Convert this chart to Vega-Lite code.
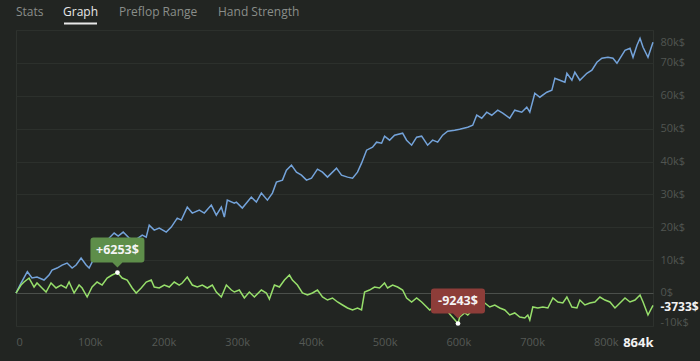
{
  "$schema": "https://vega.github.io/schema/vega-lite/v6.json",
  "background": "#222522",
  "padding": {"left": 12, "top": 0, "right": 2, "bottom": 12},
  "bounds": "flush",
  "spacing": 6,
  "config": {
    "font": "Open Sans",
    "view": {"stroke": "#2e322e"},
    "axis": {"labelFont": "Open Sans", "labelOverlap": false}
  },
  "datasets": {
    "tabs": [
      {"tab": "Stats", "order": 0, "active": false},
      {"tab": "Graph", "order": 1, "active": true},
      {"tab": "Preflop Range", "order": 2, "active": false},
      {"tab": "Hand Strength", "order": 3, "active": false}
    ],
    "series": [
      {"series": "Total", "hands_k": 0, "profit": 0},
      {"series": "Total", "hands_k": 6.8, "profit": 3070},
      {"series": "Total", "hands_k": 15.4, "profit": 6500},
      {"series": "Total", "hands_k": 21.7, "profit": 4590},
      {"series": "Total", "hands_k": 28.5, "profit": 4890},
      {"series": "Total", "hands_k": 38.0, "profit": 3980},
      {"series": "Total", "hands_k": 44.8, "profit": 5500},
      {"series": "Total", "hands_k": 48.9, "profit": 7020},
      {"series": "Total", "hands_k": 55.7, "profit": 7620},
      {"series": "Total", "hands_k": 62.5, "profit": 8530},
      {"series": "Total", "hands_k": 69.3, "profit": 9140},
      {"series": "Total", "hands_k": 76.1, "profit": 7620},
      {"series": "Total", "hands_k": 81.5, "profit": 8530},
      {"series": "Total", "hands_k": 88.3, "profit": 10660},
      {"series": "Total", "hands_k": 95.1, "profit": 8530},
      {"series": "Total", "hands_k": 99.2, "profit": 7620},
      {"series": "Total", "hands_k": 107.3, "profit": 11270},
      {"series": "Total", "hands_k": 114.1, "profit": 13090},
      {"series": "Total", "hands_k": 120.9, "profit": 14300},
      {"series": "Total", "hands_k": 126.3, "profit": 16730},
      {"series": "Total", "hands_k": 133.1, "profit": 18250},
      {"series": "Total", "hands_k": 138.6, "profit": 17340},
      {"series": "Total", "hands_k": 145.4, "profit": 18560},
      {"series": "Total", "hands_k": 153.5, "profit": 16730},
      {"series": "Total", "hands_k": 161.7, "profit": 16130},
      {"series": "Total", "hands_k": 171.2, "profit": 17650},
      {"series": "Total", "hands_k": 176.6, "profit": 17040},
      {"series": "Total", "hands_k": 180.7, "profit": 20680},
      {"series": "Total", "hands_k": 187.5, "profit": 19160},
      {"series": "Total", "hands_k": 194.3, "profit": 19770},
      {"series": "Total", "hands_k": 203.8, "profit": 18560},
      {"series": "Total", "hands_k": 210.6, "profit": 20080},
      {"series": "Total", "hands_k": 218.7, "profit": 22810},
      {"series": "Total", "hands_k": 224.2, "profit": 22200},
      {"series": "Total", "hands_k": 232.3, "profit": 26150},
      {"series": "Total", "hands_k": 239.1, "profit": 24330},
      {"series": "Total", "hands_k": 248.6, "profit": 25240},
      {"series": "Total", "hands_k": 255.4, "profit": 24330},
      {"series": "Total", "hands_k": 264.9, "profit": 26760},
      {"series": "Total", "hands_k": 271.7, "profit": 23720},
      {"series": "Total", "hands_k": 278.5, "profit": 26150},
      {"series": "Total", "hands_k": 282.6, "profit": 23110},
      {"series": "Total", "hands_k": 286.6, "profit": 28270},
      {"series": "Total", "hands_k": 296.1, "profit": 27360},
      {"series": "Total", "hands_k": 298.9, "profit": 27670},
      {"series": "Total", "hands_k": 307.0, "profit": 25850},
      {"series": "Total", "hands_k": 319.2, "profit": 29190},
      {"series": "Total", "hands_k": 326.0, "profit": 27670},
      {"series": "Total", "hands_k": 332.8, "profit": 30400},
      {"series": "Total", "hands_k": 341.0, "profit": 28270},
      {"series": "Total", "hands_k": 347.8, "profit": 30400},
      {"series": "Total", "hands_k": 353.2, "profit": 33740},
      {"series": "Total", "hands_k": 361.4, "profit": 34350},
      {"series": "Total", "hands_k": 366.8, "profit": 37390},
      {"series": "Total", "hands_k": 373.6, "profit": 38900},
      {"series": "Total", "hands_k": 380.4, "profit": 36780},
      {"series": "Total", "hands_k": 387.2, "profit": 35870},
      {"series": "Total", "hands_k": 394.0, "profit": 34350},
      {"series": "Total", "hands_k": 400.8, "profit": 34960},
      {"series": "Total", "hands_k": 408.9, "profit": 37690},
      {"series": "Total", "hands_k": 415.7, "profit": 36780},
      {"series": "Total", "hands_k": 422.5, "profit": 35260},
      {"series": "Total", "hands_k": 434.7, "profit": 37990},
      {"series": "Total", "hands_k": 441.5, "profit": 35870},
      {"series": "Total", "hands_k": 449.7, "profit": 35260},
      {"series": "Total", "hands_k": 456.5, "profit": 34960},
      {"series": "Total", "hands_k": 463.2, "profit": 36780},
      {"series": "Total", "hands_k": 468.7, "profit": 39510},
      {"series": "Total", "hands_k": 475.5, "profit": 43460},
      {"series": "Total", "hands_k": 483.6, "profit": 44370},
      {"series": "Total", "hands_k": 489.1, "profit": 45890},
      {"series": "Total", "hands_k": 495.9, "profit": 45590},
      {"series": "Total", "hands_k": 499.9, "profit": 47710},
      {"series": "Total", "hands_k": 506.7, "profit": 46500},
      {"series": "Total", "hands_k": 513.5, "profit": 48020},
      {"series": "Total", "hands_k": 524.4, "profit": 48620},
      {"series": "Total", "hands_k": 529.8, "profit": 46500},
      {"series": "Total", "hands_k": 536.6, "profit": 44980},
      {"series": "Total", "hands_k": 543.4, "profit": 47410},
      {"series": "Total", "hands_k": 550.2, "profit": 47710},
      {"series": "Total", "hands_k": 558.3, "profit": 44980},
      {"series": "Total", "hands_k": 565.1, "profit": 46500},
      {"series": "Total", "hands_k": 571.9, "profit": 45890},
      {"series": "Total", "hands_k": 578.7, "profit": 48020},
      {"series": "Total", "hands_k": 585.5, "profit": 49230},
      {"series": "Total", "hands_k": 595.0, "profit": 49530},
      {"series": "Total", "hands_k": 601.8, "profit": 49840},
      {"series": "Total", "hands_k": 612.7, "profit": 50450},
      {"series": "Total", "hands_k": 619.5, "profit": 51050},
      {"series": "Total", "hands_k": 624.9, "profit": 54090},
      {"series": "Total", "hands_k": 631.7, "profit": 53180},
      {"series": "Total", "hands_k": 638.5, "profit": 55000},
      {"series": "Total", "hands_k": 645.3, "profit": 54090},
      {"series": "Total", "hands_k": 653.4, "profit": 55610},
      {"series": "Total", "hands_k": 660.2, "profit": 54700},
      {"series": "Total", "hands_k": 669.7, "profit": 53180},
      {"series": "Total", "hands_k": 676.5, "profit": 55610},
      {"series": "Total", "hands_k": 686.0, "profit": 55000},
      {"series": "Total", "hands_k": 692.8, "profit": 56520},
      {"series": "Total", "hands_k": 696.9, "profit": 55000},
      {"series": "Total", "hands_k": 703.7, "profit": 60770},
      {"series": "Total", "hands_k": 710.5, "profit": 59560},
      {"series": "Total", "hands_k": 720.0, "profit": 61070},
      {"series": "Total", "hands_k": 726.8, "profit": 61680},
      {"series": "Total", "hands_k": 730.9, "profit": 65330},
      {"series": "Total", "hands_k": 737.7, "profit": 64720},
      {"series": "Total", "hands_k": 744.5, "profit": 64110},
      {"series": "Total", "hands_k": 747.2, "profit": 66840},
      {"series": "Total", "hands_k": 754.0, "profit": 64720},
      {"series": "Total", "hands_k": 758.0, "profit": 67150},
      {"series": "Total", "hands_k": 764.8, "profit": 64720},
      {"series": "Total", "hands_k": 774.3, "profit": 66840},
      {"series": "Total", "hands_k": 781.1, "profit": 67760},
      {"series": "Total", "hands_k": 787.9, "profit": 70190},
      {"series": "Total", "hands_k": 794.7, "profit": 71400},
      {"series": "Total", "hands_k": 802.9, "profit": 71700},
      {"series": "Total", "hands_k": 809.7, "profit": 71400},
      {"series": "Total", "hands_k": 815.1, "profit": 69880},
      {"series": "Total", "hands_k": 819.2, "profit": 71400},
      {"series": "Total", "hands_k": 826.0, "profit": 73830},
      {"series": "Total", "hands_k": 832.8, "profit": 74440},
      {"series": "Total", "hands_k": 836.9, "profit": 71700},
      {"series": "Total", "hands_k": 842.3, "profit": 75350},
      {"series": "Total", "hands_k": 846.4, "profit": 77470},
      {"series": "Total", "hands_k": 850.5, "profit": 74740},
      {"series": "Total", "hands_k": 857.2, "profit": 71700},
      {"series": "Total", "hands_k": 864.0, "profit": 76260},
      {"series": "Non-showdown", "hands_k": 0, "profit": 0},
      {"series": "Non-showdown", "hands_k": 6.8, "profit": 2460},
      {"series": "Non-showdown", "hands_k": 10.9, "profit": 3370},
      {"series": "Non-showdown", "hands_k": 17.7, "profit": 4590},
      {"series": "Non-showdown", "hands_k": 24.5, "profit": 1850},
      {"series": "Non-showdown", "hands_k": 28.5, "profit": 3070},
      {"series": "Non-showdown", "hands_k": 35.3, "profit": 1550},
      {"series": "Non-showdown", "hands_k": 40.8, "profit": 330},
      {"series": "Non-showdown", "hands_k": 47.5, "profit": 3070},
      {"series": "Non-showdown", "hands_k": 54.3, "profit": 1550},
      {"series": "Non-showdown", "hands_k": 61.1, "profit": 2460},
      {"series": "Non-showdown", "hands_k": 67.9, "profit": 1550},
      {"series": "Non-showdown", "hands_k": 72.0, "profit": 3370},
      {"series": "Non-showdown", "hands_k": 78.8, "profit": 30},
      {"series": "Non-showdown", "hands_k": 85.6, "profit": 2460},
      {"series": "Non-showdown", "hands_k": 89.7, "profit": 1550},
      {"series": "Non-showdown", "hands_k": 96.5, "profit": -1180},
      {"series": "Non-showdown", "hands_k": 103.2, "profit": 1850},
      {"series": "Non-showdown", "hands_k": 110.0, "profit": 3370},
      {"series": "Non-showdown", "hands_k": 116.8, "profit": 2460},
      {"series": "Non-showdown", "hands_k": 123.6, "profit": 4590},
      {"series": "Non-showdown", "hands_k": 130.4, "profit": 5500},
      {"series": "Non-showdown", "hands_k": 137.6, "profit": 6253},
      {"series": "Non-showdown", "hands_k": 144.0, "profit": 4590},
      {"series": "Non-showdown", "hands_k": 150.8, "profit": 3980},
      {"series": "Non-showdown", "hands_k": 157.6, "profit": 1550},
      {"series": "Non-showdown", "hands_k": 163.0, "profit": 30},
      {"series": "Non-showdown", "hands_k": 169.8, "profit": 1550},
      {"series": "Non-showdown", "hands_k": 176.6, "profit": 3370},
      {"series": "Non-showdown", "hands_k": 183.4, "profit": 3980},
      {"series": "Non-showdown", "hands_k": 187.5, "profit": 1850},
      {"series": "Non-showdown", "hands_k": 194.3, "profit": 1550},
      {"series": "Non-showdown", "hands_k": 201.1, "profit": 2460},
      {"series": "Non-showdown", "hands_k": 207.9, "profit": 1850},
      {"series": "Non-showdown", "hands_k": 214.6, "profit": 3370},
      {"series": "Non-showdown", "hands_k": 221.4, "profit": 2460},
      {"series": "Non-showdown", "hands_k": 225.5, "profit": 3070},
      {"series": "Non-showdown", "hands_k": 232.3, "profit": 4890},
      {"series": "Non-showdown", "hands_k": 239.1, "profit": 2460},
      {"series": "Non-showdown", "hands_k": 245.9, "profit": 1850},
      {"series": "Non-showdown", "hands_k": 252.7, "profit": 2460},
      {"series": "Non-showdown", "hands_k": 259.5, "profit": 1550},
      {"series": "Non-showdown", "hands_k": 266.3, "profit": 2460},
      {"series": "Non-showdown", "hands_k": 271.7, "profit": 330},
      {"series": "Non-showdown", "hands_k": 278.5, "profit": -1180},
      {"series": "Non-showdown", "hands_k": 285.3, "profit": 2460},
      {"series": "Non-showdown", "hands_k": 292.1, "profit": 940},
      {"series": "Non-showdown", "hands_k": 296.2, "profit": 330},
      {"series": "Non-showdown", "hands_k": 302.9, "profit": 940},
      {"series": "Non-showdown", "hands_k": 309.7, "profit": -1490},
      {"series": "Non-showdown", "hands_k": 316.5, "profit": 330},
      {"series": "Non-showdown", "hands_k": 323.3, "profit": -1180},
      {"series": "Non-showdown", "hands_k": 332.8, "profit": 940},
      {"series": "Non-showdown", "hands_k": 339.6, "profit": 30},
      {"series": "Non-showdown", "hands_k": 343.7, "profit": -1790},
      {"series": "Non-showdown", "hands_k": 350.5, "profit": 2460},
      {"series": "Non-showdown", "hands_k": 357.3, "profit": 1850},
      {"series": "Non-showdown", "hands_k": 364.1, "profit": 3980},
      {"series": "Non-showdown", "hands_k": 370.9, "profit": 5500},
      {"series": "Non-showdown", "hands_k": 374.9, "profit": 3980},
      {"series": "Non-showdown", "hands_k": 381.7, "profit": 2460},
      {"series": "Non-showdown", "hands_k": 388.5, "profit": 30},
      {"series": "Non-showdown", "hands_k": 395.3, "profit": -580},
      {"series": "Non-showdown", "hands_k": 402.1, "profit": 30},
      {"series": "Non-showdown", "hands_k": 408.9, "profit": 940},
      {"series": "Non-showdown", "hands_k": 415.7, "profit": -1180},
      {"series": "Non-showdown", "hands_k": 422.5, "profit": -2100},
      {"series": "Non-showdown", "hands_k": 429.3, "profit": -1490},
      {"series": "Non-showdown", "hands_k": 436.1, "profit": -2700},
      {"series": "Non-showdown", "hands_k": 442.9, "profit": -3610},
      {"series": "Non-showdown", "hands_k": 449.7, "profit": -4530},
      {"series": "Non-showdown", "hands_k": 456.5, "profit": -5130},
      {"series": "Non-showdown", "hands_k": 463.2, "profit": -4530},
      {"series": "Non-showdown", "hands_k": 468.7, "profit": -5130},
      {"series": "Non-showdown", "hands_k": 472.8, "profit": 330},
      {"series": "Non-showdown", "hands_k": 479.5, "profit": 940},
      {"series": "Non-showdown", "hands_k": 486.3, "profit": 1850},
      {"series": "Non-showdown", "hands_k": 493.1, "profit": 1550},
      {"series": "Non-showdown", "hands_k": 499.9, "profit": 3070},
      {"series": "Non-showdown", "hands_k": 504.0, "profit": 1550},
      {"series": "Non-showdown", "hands_k": 510.8, "profit": 2460},
      {"series": "Non-showdown", "hands_k": 517.6, "profit": 1850},
      {"series": "Non-showdown", "hands_k": 524.4, "profit": 940},
      {"series": "Non-showdown", "hands_k": 529.8, "profit": -1490},
      {"series": "Non-showdown", "hands_k": 536.6, "profit": -2700},
      {"series": "Non-showdown", "hands_k": 543.4, "profit": -1490},
      {"series": "Non-showdown", "hands_k": 550.2, "profit": -2700},
      {"series": "Non-showdown", "hands_k": 557.0, "profit": -4220},
      {"series": "Non-showdown", "hands_k": 561.1, "profit": -5130},
      {"series": "Non-showdown", "hands_k": 567.9, "profit": -4220},
      {"series": "Non-showdown", "hands_k": 574.6, "profit": -5740},
      {"series": "Non-showdown", "hands_k": 581.4, "profit": -4530},
      {"series": "Non-showdown", "hands_k": 588.2, "profit": -6350},
      {"series": "Non-showdown", "hands_k": 599.5, "profit": -9243},
      {"series": "Non-showdown", "hands_k": 601.8, "profit": -7260},
      {"series": "Non-showdown", "hands_k": 608.6, "profit": -6040},
      {"series": "Non-showdown", "hands_k": 612.7, "profit": -6650},
      {"series": "Non-showdown", "hands_k": 619.5, "profit": -5130},
      {"series": "Non-showdown", "hands_k": 626.3, "profit": -3610},
      {"series": "Non-showdown", "hands_k": 635.8, "profit": -3010},
      {"series": "Non-showdown", "hands_k": 642.6, "profit": -4220},
      {"series": "Non-showdown", "hands_k": 649.4, "profit": -3610},
      {"series": "Non-showdown", "hands_k": 656.2, "profit": -4530},
      {"series": "Non-showdown", "hands_k": 663.0, "profit": -5130},
      {"series": "Non-showdown", "hands_k": 669.7, "profit": -6650},
      {"series": "Non-showdown", "hands_k": 676.5, "profit": -6040},
      {"series": "Non-showdown", "hands_k": 683.3, "profit": -7260},
      {"series": "Non-showdown", "hands_k": 690.1, "profit": -7560},
      {"series": "Non-showdown", "hands_k": 694.2, "profit": -6650},
      {"series": "Non-showdown", "hands_k": 696.9, "profit": -8170},
      {"series": "Non-showdown", "hands_k": 701.0, "profit": -4220},
      {"series": "Non-showdown", "hands_k": 707.8, "profit": -4530},
      {"series": "Non-showdown", "hands_k": 714.6, "profit": -4220},
      {"series": "Non-showdown", "hands_k": 721.4, "profit": -4530},
      {"series": "Non-showdown", "hands_k": 728.2, "profit": -1490},
      {"series": "Non-showdown", "hands_k": 735.0, "profit": -2700},
      {"series": "Non-showdown", "hands_k": 741.7, "profit": -3010},
      {"series": "Non-showdown", "hands_k": 747.2, "profit": -1180},
      {"series": "Non-showdown", "hands_k": 754.0, "profit": -4220},
      {"series": "Non-showdown", "hands_k": 760.8, "profit": -4530},
      {"series": "Non-showdown", "hands_k": 764.8, "profit": -2100},
      {"series": "Non-showdown", "hands_k": 771.6, "profit": -3610},
      {"series": "Non-showdown", "hands_k": 778.4, "profit": -3010},
      {"series": "Non-showdown", "hands_k": 785.2, "profit": -2700},
      {"series": "Non-showdown", "hands_k": 792.0, "profit": -1180},
      {"series": "Non-showdown", "hands_k": 798.8, "profit": -2100},
      {"series": "Non-showdown", "hands_k": 805.6, "profit": -2700},
      {"series": "Non-showdown", "hands_k": 812.4, "profit": -4530},
      {"series": "Non-showdown", "hands_k": 819.2, "profit": -3010},
      {"series": "Non-showdown", "hands_k": 826.0, "profit": -1490},
      {"series": "Non-showdown", "hands_k": 832.8, "profit": -2700},
      {"series": "Non-showdown", "hands_k": 839.6, "profit": -2100},
      {"series": "Non-showdown", "hands_k": 846.4, "profit": -580},
      {"series": "Non-showdown", "hands_k": 850.5, "profit": -2700},
      {"series": "Non-showdown", "hands_k": 857.2, "profit": -6650},
      {"series": "Non-showdown", "hands_k": 864.0, "profit": -3733}
    ],
    "extremes": [
      {"hands_k": 137.6, "profit": 6253, "label": "+6253$", "kind": "max"},
      {"hands_k": 599.5, "profit": -9243, "label": "-9243$", "kind": "min"}
    ]
  },
  "vconcat": [
    {
      "width": 637,
      "height": 24,
      "view": {"stroke": null},
      "data": {"name": "tabs"},
      "layer": [
        {
          "mark": {"type": "text", "align": "left", "baseline": "middle", "fontSize": 12, "font": "Open Sans"},
          "encoding": {
            "x": {"field": "order", "type": "quantitative", "scale": {"domain": [0, 1, 2, 3], "range": [0, 47, 103, 202]}, "axis": null},
            "text": {"field": "tab"},
            "color": {"condition": {"test": "datum.active", "value": "#e8e8e8"}, "value": "#8a8e8a"}
          }
        },
        {
          "transform": [{"filter": "datum.active"}],
          "mark": {"type": "point", "shape": "M1,10.5 H34 V12.5 H1 Z", "size": 4, "filled": true, "opacity": 1, "color": "#e8e8e8"},
          "encoding": {
            "x": {"field": "order", "type": "quantitative", "scale": {"domain": [0, 1, 2, 3], "range": [0, 47, 103, 202]}, "axis": null}
          }
        }
      ]
    },
    {
      "width": 637,
      "height": 296,
      "encoding": {
        "x": {
          "field": "hands_k", "type": "quantitative",
          "scale": {"domain": [0, 864], "nice": false, "zero": false},
          "axis": {
            "orient": "bottom", "title": null,
            "values": [0, 100, 200, 300, 400, 500, 600, 700, 800, 864],
            "labelExpr": "datum.value == 0 ? '0' : datum.value + 'k'",
            "labelFlush": true, "labelPadding": 10, "ticks": false, "tickSize": 0,
            "domain": false, "grid": false, "labelOverlap": false,
            "labelColor": {"condition": {"test": "datum.value == 864", "value": "#f2f2f2"}, "value": "#555955"},
            "labelFontWeight": {"condition": {"test": "datum.value == 864", "value": "bold"}, "value": "normal"},
            "labelFontSize": {"condition": {"test": "datum.value == 864", "value": 13}, "value": 11}
          }
        },
        "y": {
          "field": "profit", "type": "quantitative",
          "scale": {"domain": [-10000, 80000], "nice": false},
          "axis": {
            "orient": "right", "title": null,
            "values": [-10000, -3733, 0, 10000, 20000, 30000, 40000, 50000, 60000, 70000, 80000],
            "labelExpr": "datum.value == -3733 ? '-3733$' : datum.value == 0 ? '0$' : (datum.value / 1000) + 'k$'",
            "labelAlign": "left", "labelBaseline": "middle", "labelPadding": 7,
            "ticks": false, "tickSize": 0, "domain": false, "labelOverlap": false, "labelBound": false,
            "grid": true,
            "gridColor": {"condition": {"test": "datum.value == 0", "value": "#4b4f4b"}, "value": "#2c302c"},
            "gridOpacity": {"condition": {"test": "datum.value == -3733", "value": 0}, "value": 1},
            "labelColor": {"condition": {"test": "datum.value == -3733", "value": "#f2f2f2"}, "value": "#515551"},
            "labelFontWeight": {"condition": {"test": "datum.value == -3733", "value": "bold"}, "value": "normal"},
            "labelFontSize": {"condition": {"test": "datum.value == -3733", "value": 12}, "value": 11},
            "labelOffset": {"condition": [
              {"test": "datum.value == 80000", "value": 12},
              {"test": "datum.value == -10000", "value": -4},
              {"test": "datum.value == 0", "value": -1},
              {"test": "datum.value == -3733", "value": 1}
            ], "value": 0}
          }
        }
      },
      "layer": [
        {
          "data": {"name": "series"},
          "mark": {"type": "line", "strokeWidth": 1.5},
          "encoding": {
            "color": {
              "field": "series", "type": "nominal",
              "scale": {"domain": ["Total", "Non-showdown"], "range": ["#74a3da", "#97df6b"]},
              "legend": null
            }
          }
        },
        {
          "data": {"name": "extremes"},
          "mark": {
            "type": "point", "filled": true, "opacity": 1, "size": 4, "strokeWidth": 0,
            "shape": "M-24,-35 H24 Q27,-35 27,-32 V-13 Q27,-10 24,-10 H5 L0,-5 L-5,-10 H-24 Q-27,-10 -27,-13 V-32 Q-27,-35 -24,-35 Z"
          },
          "encoding": {
            "fill": {"condition": {"test": "datum.kind == 'max'", "value": "#5e8e4a"}, "value": "#8d3d39"}
          }
        },
        {
          "data": {"name": "extremes"},
          "mark": {"type": "text", "dy": -22.5, "fontSize": 12.5, "fontWeight": "bold", "color": "#f4f4f4", "align": "center", "baseline": "middle", "font": "Open Sans"},
          "encoding": {
            "text": {"field": "label"}
          }
        },
        {
          "data": {"name": "extremes"},
          "mark": {"type": "point", "shape": "circle", "filled": true, "opacity": 1, "size": 22, "color": "#ffffff"}
        }
      ]
    }
  ]
}
